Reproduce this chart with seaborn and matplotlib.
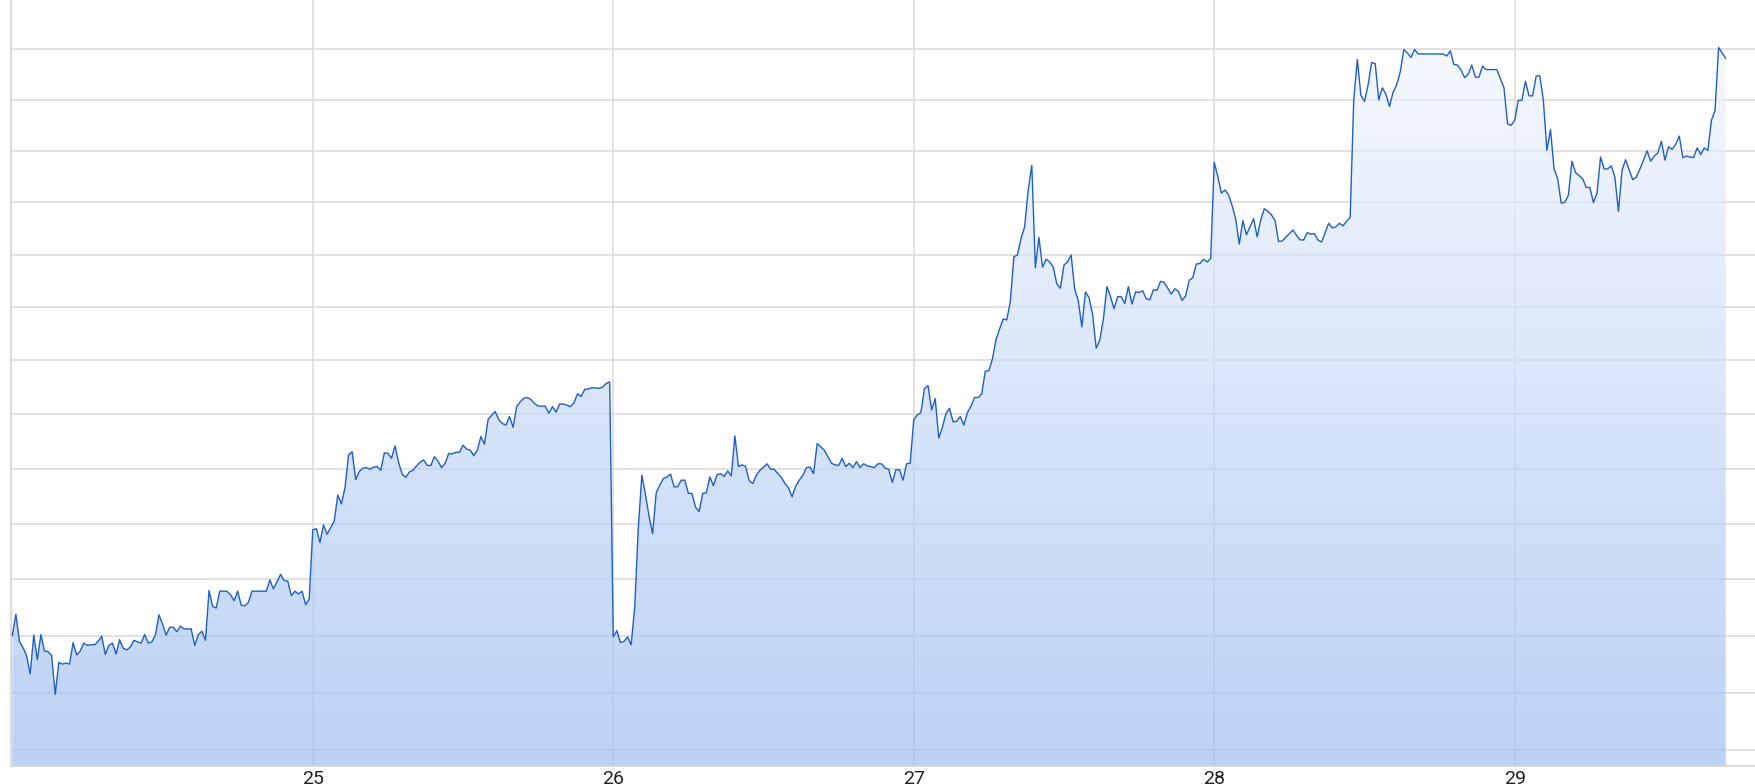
import numpy as np
import pandas as pd
import seaborn as sns
import matplotlib.pyplot as plt
from matplotlib.colors import LinearSegmentedColormap
from matplotlib.ticker import NullLocator

# valores, 84 muestras por dia
day_24 = [86.00, 86.38, 85.90, 85.79, 85.65, 85.33, 86.01, 85.58, 86.02, 85.73,
          85.72, 85.65, 84.97, 85.53, 85.50, 85.52, 85.50, 85.88, 85.66, 85.73,
          85.87, 85.83, 85.84, 85.84, 85.90, 85.99, 85.67, 85.83, 85.87, 85.68,
          85.93, 85.78, 85.75, 85.80, 85.92, 85.89, 85.87, 86.02, 85.87, 85.89,
          86.01, 86.37, 86.21, 86.01, 86.15, 86.15, 86.07, 86.17, 86.12, 86.12,
          86.12, 85.83, 86.02, 86.08, 85.92, 86.80, 86.52, 86.49, 86.79, 86.79,
          86.79, 86.73, 86.62, 86.79, 86.54, 86.53, 86.59, 86.79, 86.79, 86.79,
          86.79, 86.79, 86.99, 86.83, 86.96, 87.09, 86.98, 86.97, 86.71, 86.79,
          86.74, 86.79, 86.55, 86.65]
day_25 = [87.89, 87.91, 87.66, 87.98, 87.81, 87.93, 88.05, 88.52, 88.36, 88.65,
          89.25, 89.31, 88.80, 88.95, 89.01, 89.02, 88.99, 89.03, 89.04, 88.97,
          89.29, 89.28, 89.19, 89.42, 89.11, 88.90, 88.84, 88.94, 88.97, 89.05,
          89.12, 89.16, 89.06, 89.06, 89.22, 89.14, 89.02, 89.10, 89.28, 89.27,
          89.30, 89.30, 89.43, 89.36, 89.34, 89.24, 89.34, 89.59, 89.45, 89.90,
          89.98, 90.05, 89.90, 89.83, 89.80, 89.96, 89.76, 90.14, 90.23, 90.30,
          90.31, 90.27, 90.20, 90.15, 90.15, 90.15, 90.02, 90.14, 90.04, 90.19,
          90.19, 90.17, 90.14, 90.21, 90.38, 90.33, 90.46, 90.47, 90.49, 90.49,
          90.48, 90.50, 90.57, 90.60]
day_26 = [85.98, 86.09, 85.88, 85.90, 85.98, 85.84, 86.51, 87.93, 88.88, 88.53,
          88.14, 87.82, 88.56, 88.70, 88.82, 88.85, 88.90, 88.67, 88.67, 88.79,
          88.79, 88.55, 88.55, 88.30, 88.22, 88.55, 88.56, 88.85, 88.69, 88.89,
          88.91, 88.86, 88.96, 88.87, 89.60, 89.04, 89.07, 89.04, 88.78, 88.73,
          88.88, 88.97, 89.03, 89.09, 88.99, 88.99, 88.91, 88.84, 88.73, 88.65,
          88.49, 88.68, 88.79, 88.88, 89.02, 89.03, 88.91, 89.46, 89.40, 89.34,
          89.22, 89.10, 89.07, 89.06, 89.19, 89.04, 89.10, 89.02, 89.13, 89.02,
          89.09, 89.05, 89.04, 89.02, 89.09, 89.09, 89.01, 88.99, 88.75, 88.98,
          88.98, 88.79, 89.09, 89.10]
day_27 = [89.90, 89.99, 90.03, 90.48, 90.53, 90.08, 90.29, 89.56, 89.76, 90.01,
          90.11, 89.86, 89.87, 89.96, 89.80, 90.03, 90.15, 90.31, 90.31, 90.38,
          90.80, 90.81, 91.03, 91.39, 91.59, 91.78, 91.76, 92.11, 92.96, 92.99,
          93.31, 93.53, 94.24, 94.72, 92.75, 93.33, 92.76, 92.91, 92.86, 92.76,
          92.44, 92.36, 92.80, 92.86, 92.99, 92.34, 92.12, 91.63, 92.29, 92.18,
          91.87, 91.23, 91.38, 91.77, 92.39, 92.20, 91.97, 92.20, 92.20, 92.07,
          92.39, 92.06, 92.29, 92.28, 92.31, 92.16, 92.14, 92.33, 92.32, 92.49,
          92.47, 92.36, 92.25, 92.35, 92.30, 92.13, 92.21, 92.51, 92.56, 92.82,
          92.83, 92.91, 92.86, 92.92]
day_28 = [94.78, 94.50, 94.18, 94.24, 94.15, 93.94, 93.68, 93.20, 93.65, 93.38,
          93.53, 93.69, 93.34, 93.66, 93.88, 93.83, 93.76, 93.65, 93.25, 93.26,
          93.33, 93.40, 93.47, 93.37, 93.28, 93.28, 93.42, 93.39, 93.40, 93.28,
          93.24, 93.42, 93.60, 93.51, 93.53, 93.60, 93.55, 93.64, 93.71, 95.99,
          96.80, 96.09, 95.97, 96.29, 96.74, 96.72, 96.00, 96.24, 96.11, 95.87,
          96.15, 96.30, 96.55, 97.00, 96.93, 96.84, 97.00, 96.91, 96.91, 96.91,
          96.91, 96.91, 96.91, 96.91, 96.91, 96.87, 96.97, 96.70, 96.69, 96.59,
          96.44, 96.51, 96.69, 96.45, 96.45, 96.67, 96.60, 96.60, 96.60, 96.60,
          96.42, 96.24, 95.53, 95.50]
day_29 = [95.60, 95.99, 95.99, 96.37, 96.08, 96.08, 96.47, 96.48, 96.00, 95.01,
          95.42, 94.65, 94.46, 93.99, 94.00, 94.14, 94.80, 94.58, 94.52, 94.46,
          94.29, 94.29, 94.00, 94.18, 94.88, 94.65, 94.65, 94.71, 94.49, 93.83,
          94.62, 94.83, 94.63, 94.44, 94.49, 94.65, 94.82, 95.00, 94.80, 94.90,
          94.96, 95.19, 94.82, 95.08, 95.03, 95.13, 95.29, 94.87, 94.90, 94.88,
          94.87, 95.06, 94.93, 95.06, 95.01, 95.60, 95.79, 97.04, 96.93, 96.82]

days = [24, 25, 26, 27, 28, 29]
day_values = [day_24, day_25, day_26, day_27, day_28, day_29]
tick_days = [25, 26, 27, 28, 29]
tick_labels = ['25', '26', '27', '28', '29']
grid_levels = list(range(84, 98))
samples_per_day = 84

rows = []
for d, vals in zip(days, day_values):
    for k, v in enumerate(vals):
        rows.append((d + k / samples_per_day, v))
df = pd.DataFrame(rows, columns=['t', 'valor'])

sns.set_style('white')
plt.rcParams['font.family'] = ['Roboto', 'DejaVu Sans']

fig = plt.figure(figsize=(17.56, 7.84), dpi=100)
ax = fig.add_axes([11 / 1756, 18 / 784, 1 - 11 / 1756, 766 / 784])

sns.lineplot(data=df, x='t', y='valor', ax=ax, color='#1f5fc6', linewidth=1.0,
             estimator=None, sort=False, zorder=3)

ax.set_yscale('log')
ax.set_xlim(23.9957, 29.803)
ax.set_ylim(83.73, 97.99)
ax.set_autoscale_on(False)

# relleno con degradado semitransparente recortado bajo la curva
poly = ax.fill_between(df['t'], df['valor'], 80, facecolor='none', edgecolor='none')
cmap = LinearSegmentedColormap.from_list('relleno', ['#9fbff1', '#f6f9ff'])
grad = np.linspace(0, 1, 256).reshape(-1, 1)
im = ax.imshow(grad, cmap=cmap, origin='lower', extent=[0, 1, 0, 1],
               transform=ax.transAxes, aspect='auto', alpha=0.7, zorder=1)
im.set_clip_path(poly.get_paths()[0], transform=ax.transData)

ax.set_yticks(grid_levels)
ax.set_yticklabels([])
ax.yaxis.set_minor_locator(NullLocator())
ax.set_xticks(tick_days)
ax.set_xticklabels(tick_labels)
ax.xaxis.set_minor_locator(NullLocator())
ax.tick_params(axis='both', length=0)
ax.tick_params(axis='x', labelsize=14, pad=3, labelcolor='#222222')

ax.set_axisbelow(True)
ax.grid(True, color='#dcdcdc', linewidth=1.2)
ax.set_xlabel('')
ax.set_ylabel('')

for side in ['top', 'right']:
    ax.spines[side].set_visible(False)
for side in ['left', 'bottom']:
    ax.spines[side].set_color('#d4d4d4')
    ax.spines[side].set_linewidth(1.2)

fig.savefig('out.png', dpi=100)
